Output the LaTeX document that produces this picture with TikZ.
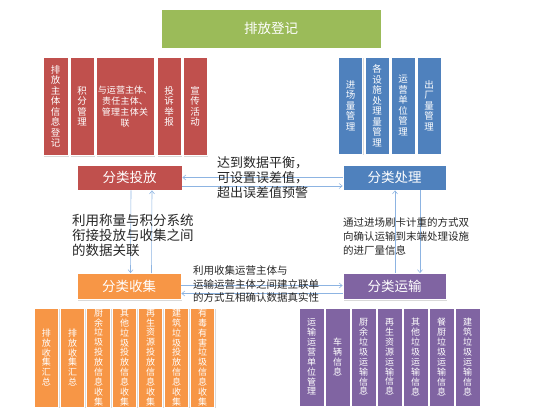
\documentclass[tikz,border=0pt]{standalone}
\usepackage{fontspec}
\setmainfont{Noto Sans CJK SC}
\XeTeXlinebreaklocale "zh"
\XeTeXlinebreakskip=0pt plus 1pt
\usetikzlibrary{arrows.meta,shadows}

\definecolor{regGreen}{HTML}{9BBB59}
\definecolor{regRed}{HTML}{C0504D}
\definecolor{regBlue}{HTML}{4F81BD}
\definecolor{regOrange}{HTML}{F79646}
\definecolor{regPurple}{HTML}{8064A2}
\definecolor{flowBlue}{HTML}{8DB4E2}

\begin{document}
\begin{tikzpicture}[x=1pt, y=-1pt,
    box/.style={draw=white, line width=0.8pt, inner sep=0pt, text=white,
      drop shadow={shadow xshift=1pt, shadow yshift=-1.2pt, opacity=0.3}},
    mainbox/.style={box, minimum width=104pt, minimum height=26pt,
      font=\fontsize{13.5}{15}\selectfont},
    colbox/.style={box, minimum width=24pt, minimum height=98pt,
      text width=1.15em, align=center, font=\fontsize{9.5}{10.5}\selectfont},
    lowbox/.style={colbox, font=\fontsize{9}{9.9}\selectfont},
    flow/.style={draw=flowBlue, line width=0.6pt,
      -{Straight Barb[length=3pt,width=5pt]}},
    note/.style={anchor=west, align=left, inner sep=0pt, text=black!85}]
  \useasboundingbox (0,0) rectangle (554,415);

  % Top: registration.
  \node[box, fill=regGreen, minimum width=220pt, minimum height=39pt,
    font=\fontsize{13.5}{15}\selectfont] (dengji) at (271,28.5) {排放登记};

  % Red columns above the disposal box.
  \node[colbox, fill=regRed, minimum width=25pt] (hong1) at (55.5,106.5) {排放主体信息登记};
  \node[colbox, fill=regRed] (hong2) at (82,106.5) {积分管理};
  \node[colbox, fill=regRed, minimum width=58pt, text width=56pt,
    font=\fontsize{9}{11}\selectfont] (hong3) at (125,106.5)
    {与运营主体、\\责任主体、\\管理主体关\\联};
  \node[colbox, fill=regRed] (hong4) at (169,106.5) {投诉举报};
  \node[colbox, fill=regRed] (hong5) at (195,106.5) {宣传活动};

  % Blue columns above the treatment box.
  \node[colbox, fill=regBlue, minimum height=97pt] (lan1) at (350.5,105.5) {进场量管理};
  \node[colbox, fill=regBlue, minimum height=97pt] (lan2) at (377,105.5) {各设施处理量管理};
  \node[colbox, fill=regBlue, minimum height=97pt] (lan3) at (403,105.5) {运营单位管理};
  \node[colbox, fill=regBlue, minimum height=97pt] (lan4) at (429,105.5) {出厂量管理};

  % The four stages.
  \node[mainbox, fill=regRed, minimum width=105pt, minimum height=25pt] (toufang) at (129.5,177.5) {分类投放};
  \node[mainbox, fill=regBlue, minimum width=103pt, minimum height=25pt] (chuli) at (394.5,177.5) {分类处理};
  \node[mainbox, fill=regOrange] (shouji) at (129,286.5) {分类收集};
  \node[mainbox, fill=regPurple, minimum width=103pt] (yunshu) at (394.5,286.5) {分类运输};

  % Links between the stages.
  \draw[flow] (chuli.west) -- (toufang.east);
  \draw[flow] ([yshift=-8.5pt]toufang.east) -- ([yshift=-8.5pt]chuli.west);
  \draw[flow] ([xshift=1.5pt]toufang.south) -- ([xshift=1.5pt]shouji.north);
  \draw[flow] ([xshift=22.5pt]shouji.north) -- ([xshift=22.5pt]toufang.south);
  \draw[flow] ([xshift=0.5pt]yunshu.north) -- ([xshift=0.5pt]chuli.south);
  \draw[flow] ([xshift=25.5pt]chuli.south) -- ([xshift=25.5pt]yunshu.north);
  \draw[flow] ([yshift=1pt]shouji.east) -- ([yshift=1pt]yunshu.west);
  \draw[flow] ([yshift=-7pt]yunshu.west) -- ([yshift=-7pt]shouji.east);

  % Notes.
  \node[note, font=\fontsize{13}{15}\selectfont] (pingheng) at (217,178)
    {达到数据平衡，\\可设置误差值，\\超出误差值预警};
  \node[note, font=\fontsize{13.5}{15}\selectfont] (chengliang) at (72,235)
    {利用称量与积分系统\\衔接投放与收集之间\\的数据关联};
  \node[note, font=\fontsize{10.5}{14}\selectfont] (shuaka) at (343,236)
    {通过进场刷卡计重的方式双\\向确认运输到末端处理设施\\的进厂量信息};
  \node[note, font=\fontsize{10.5}{13.5}\selectfont] (liandan) at (193,284.5)
    {利用收集运营主体与\\运输运营主体之间建立联单\\的方式互相确认数据真实性};

  % Orange columns below the collection box.
  \foreach \txt [count=\i from 0] in {排放收集汇总, 排放收集汇总, 厨余垃圾投放信息收集,
      其他垃圾投放信息收集, 再生资源投放信息收集, 建筑垃圾投放信息收集, 有毒有害垃圾信息收集}
    \node[lowbox, fill=regOrange, minimum height=99pt] (cheng\i) at (46.5+26*\i,357.5) {\txt};

  % Purple columns below the transport box.
  \foreach \txt [count=\i from 0] in {运输运营单位管理, 车辆信息, 厨余垃圾运输信息,
      再生资源运输信息, 其他垃圾运输信息, 餐厨垃圾运输信息, 建筑垃圾运输信息}
    \node[lowbox, fill=regPurple, minimum width=25pt] (zi\i) at (311.5+26*\i,357) {\txt};
\end{tikzpicture}
\end{document}
